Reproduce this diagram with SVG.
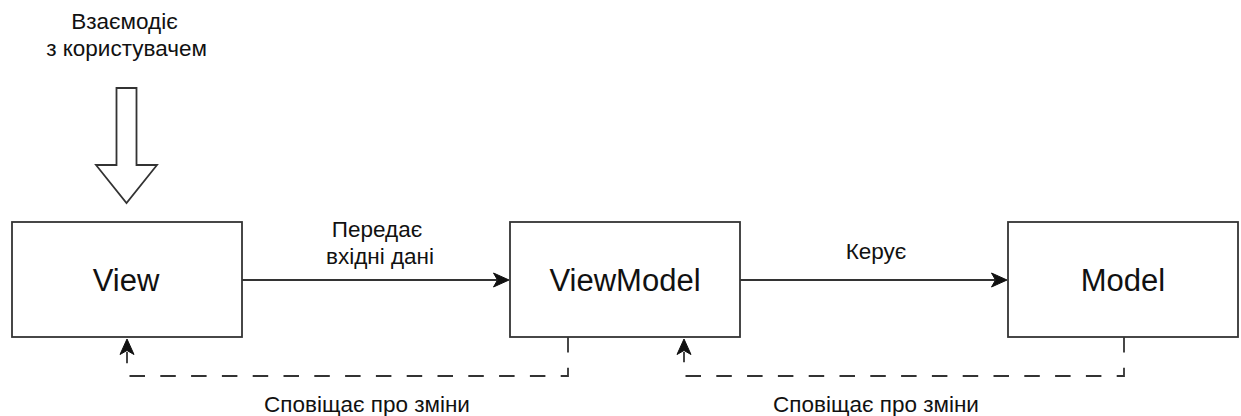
<svg xmlns="http://www.w3.org/2000/svg" width="1241" height="416" viewBox="0 0 1241 416">
  <style>
    .box { fill: #ffffff; stroke: #333333; stroke-width: 1.8; }
    .label { font-family: "Liberation Sans", Arial, sans-serif; fill: #111111; text-anchor: middle; }
    .node-text { font-size: 31px; }
    .edge-text { font-size: 22.5px; }
    .edge { fill: none; stroke: #333333; stroke-width: 1.8; }
    .dashed { stroke-dasharray: 15.5 15.3; }
    .head { fill: #111111; stroke: #111111; stroke-width: 1; stroke-linejoin: miter; }
  </style>

  <rect width="1241" height="416" fill="#ffffff"/>

  <!-- user interaction hint -->
  <g id="user-input">
    <text class="label edge-text" x="124.5" y="29">Взаємодіє</text>
    <text class="label edge-text" x="126.5" y="56">з користувачем</text>
    <polygon points="116.5,88 136.5,88 136.5,165 157,165 126.5,203 96,165 116.5,165" fill="#ffffff" stroke="#333333" stroke-width="1.8" stroke-linejoin="miter"/>
  </g>

  <!-- nodes -->
  <g id="view">
    <rect class="box" x="12" y="222" width="230" height="115"/>
    <text class="label node-text" x="126" y="291">View</text>
  </g>
  <g id="viewmodel">
    <rect class="box" x="510" y="222" width="230" height="115"/>
    <text class="label node-text" x="625" y="291">ViewModel</text>
  </g>
  <g id="model">
    <rect class="box" x="1008" y="222" width="230" height="115"/>
    <text class="label node-text" x="1123" y="291">Model</text>
  </g>

  <!-- connectors -->
  <g id="connectors">
    <!-- View -> ViewModel -->
    <path class="edge" d="M242,280 L497,280"/>
    <polygon class="head" points="509,280 493.5,273 497.5,280 493.5,287"/>
    <text class="label edge-text" x="377" y="237">Передає</text>
    <text class="label edge-text" x="380" y="264">вхідні дані</text>

    <!-- ViewModel -> Model -->
    <path class="edge" d="M740,280 L995,280"/>
    <polygon class="head" points="1007,280 991.5,273 995.5,280 991.5,287"/>
    <text class="label edge-text" x="876" y="259">Керує</text>

    <!-- ViewModel notifies View -->
    <path class="edge dashed" d="M568,337 L568,376 L127,376 L127,352"/>
    <polygon class="head" points="127,339 120,354.5 127,350.5 134,354.5"/>
    <text class="label edge-text" x="367" y="412">Сповіщає про зміни</text>

    <!-- Model notifies ViewModel -->
    <path class="edge dashed" d="M1124,337 L1124,376 L684,376 L684,352"/>
    <polygon class="head" points="684,339 677,354.5 684,350.5 691,354.5"/>
    <text class="label edge-text" x="876" y="412">Сповіщає про зміни</text>
  </g>
</svg>
